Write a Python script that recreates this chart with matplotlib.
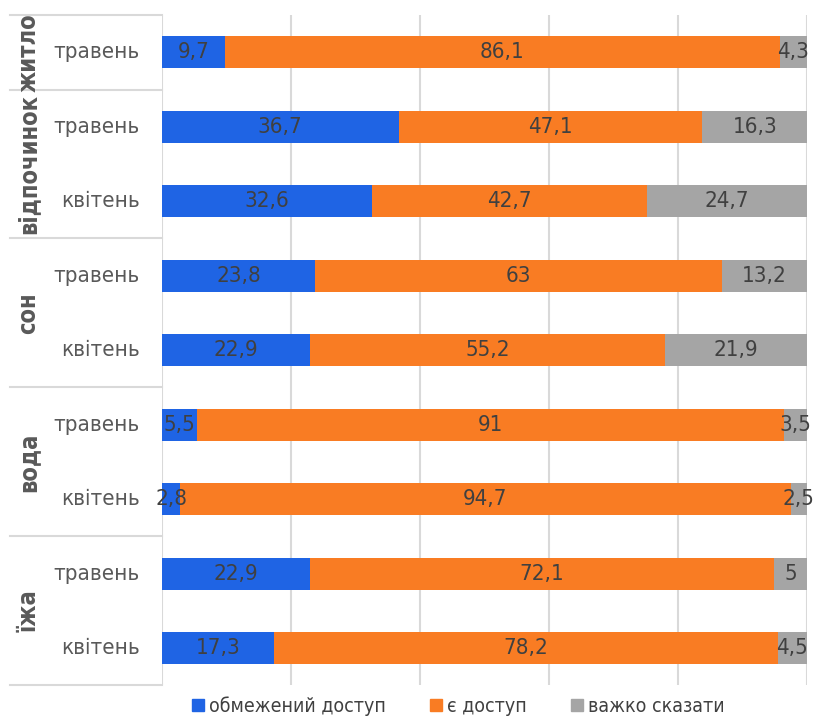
import matplotlib.pyplot as plt
from matplotlib.patches import Patch

# bars listed bottom -> top
months = ["квітень", "травень", "квітень", "травень", "квітень", "травень",
          "квітень", "травень", "травень"]
limited = [17.3, 22.9, 2.8, 5.5, 22.9, 23.8, 32.6, 36.7, 9.7]
access = [78.2, 72.1, 94.7, 91, 55.2, 63, 42.7, 47.1, 86.1]
hard = [4.5, 5, 2.5, 3.5, 21.9, 13.2, 24.7, 16.3, 4.3]

groups = ["їжа", "вода", "сон", "відпочинок", "житло"]
group_bounds = [(-0.5, 1.5), (1.5, 3.5), (3.5, 5.5), (5.5, 7.5), (7.5, 8.5)]

series_names = ["обмежений доступ", "є доступ", "важко сказати"]
colors = ["#1F64E4", "#F97C23", "#A5A5A5"]

plt.rcParams['font.family'] = ['DejaVu Sans']
plt.rcParams['font.stretch'] = 'condensed'

fig = plt.figure(figsize=(8.14, 7.19), dpi=100)
ax = fig.add_axes([0.199, 0.047, 0.792, 0.932])

y = list(range(len(months)))
left = [0] * len(y)
for vals, col in zip([limited, access, hard], colors):
    ax.barh(y, vals, left=left, height=0.43, color=col, zorder=2)
    for yi, v, l in zip(y, vals, left):
        txt = f"{v:g}".replace(".", ",")
        ax.text(l + v / 2, yi, txt, ha="center", va="center",
                fontsize=16, color="#404040", zorder=3)
    left = [a + b for a, b in zip(left, vals)]

ax.set_xlim(0, 100)
ax.set_ylim(-0.5, 8.5)
for gx in [20, 40, 60, 80, 100]:
    ax.axvline(gx, color="#D9D9D9", lw=1.5, zorder=1)
ax.axvline(0, color="#D9D9D9", lw=1.5, zorder=1)
for s in ax.spines.values():
    s.set_visible(False)
ax.set_xticks([])
ax.set_yticks([])

trans = ax.get_yaxis_transform()
for yi, m in zip(y, months):
    ax.text(-0.035, yi, m, transform=trans, ha="right", va="center",
            fontsize=16, color="#595959")

bounds = sorted({b for pair in group_bounds for b in pair})
for b in bounds:
    ax.plot([-0.236, 0], [b, b], transform=trans, color="#D9D9D9",
            lw=1.5, clip_on=False)
for g, (lo, hi) in zip(groups, group_bounds):
    ax.text(-0.207, (lo + hi) / 2, g, transform=trans, ha="center",
            va="center", rotation=90, fontsize=17, fontweight="bold",
            color="#595959")

handles = [Patch(color=c, label=n) for c, n in zip(colors, series_names)]
fig.legend(handles=handles, loc="center", bbox_to_anchor=(0.563, 0.018),
           ncol=3, frameon=False, fontsize=14, handlelength=0.6,
           handleheight=0.6, handletextpad=0.25, columnspacing=2.3,
           labelcolor="#404040")

fig.savefig("out.png", dpi=100)
